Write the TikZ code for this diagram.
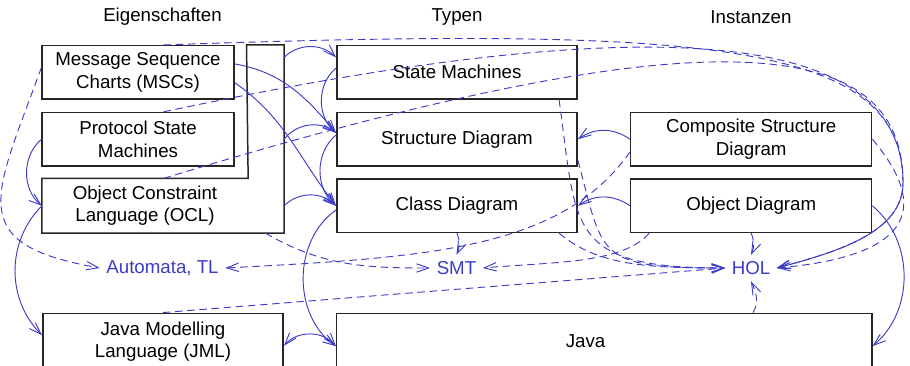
\documentclass[tikz,border=0pt]{standalone}
\usepackage{fontspec}
\setmainfont{Liberation Sans}
\usetikzlibrary{arrows.meta}
\definecolor{flowblue}{RGB}{60,60,200}

\begin{document}
\begin{tikzpicture}[x=0.0188cm, y=0.0188cm, >={Straight Barb[length=6.5pt,width=4.5pt]},
    box/.style={draw=black!85, line width=0.8pt, inner sep=0pt, align=center, minimum height=1cm},
    tool/.style={text=flowblue},
    uses/.style={flowblue, line width=0.5pt, ->},
    maps/.style={uses, dash pattern=on 4pt off 2.5pt}]
  \useasboundingbox (0,0) rectangle (910,365);

  % HEADINGS:
  \node (eig) at (162.5,348) {Eigenschaften};
  \node (typ) at (457,348) {Typen};
  \node (ins) at (751,348) {Instanzen};

  % BOXES:
  \node[box, minimum width=3.6cm] (msc) at (138,292.7) {Message Sequence\\Charts (MSCs)};
  \node[box, minimum width=3.6cm] (psm) at (138,225.8) {Protocol State\\Machines};
  \node[box, draw=none, minimum width=3.85cm] (ocl) at (145,159.2) {Object Constraint\\Language (OCL)};
  \node[box, draw=none, minimum width=0.677cm, minimum height=3.51cm] (oclbar) at (265.3,226) {};
  \draw[black!85, line width=0.8pt] (ocl.north west) -- (ocl.north east) -- (oclbar.north west)
       -- (oclbar.north east) -- (oclbar.south east) -- (ocl.south west) -- cycle;

  \node[box, minimum width=4.52cm] (sm) at (457,292.7) {State Machines};
  \node[box, minimum width=4.52cm] (sd) at (457,225.8) {Structure Diagram};
  \node[box, minimum width=4.52cm] (cd) at (457,159.2) {Class Diagram};

  \node[box, minimum width=4.53cm] (csd) at (751.2,225.8) {Composite Structure\\Diagram};
  \node[box, minimum width=4.53cm] (od) at (751.2,159.2) {Object Diagram};

  \node[box, minimum width=4.52cm, minimum height=1.06cm] (jml) at (163,23.5) {Java Modelling\\Language (JML)};
  \node[box, minimum width=10.06cm, minimum height=1.06cm,
        label={[xshift=-0.35cm]center:Java}] (java) at (604.2,23.5) {};

  % TARGETS
  \node[tool] (auto) at (162.5,97) {Automata, TL};
  \node[tool] (smt) at (456.5,97) {SMT};
  \node[tool] (hol) at (751,97) {HOL};

  % LINES:
  \draw[uses] (msc.5) to[out=-10,in=130] (sd.177);
  \draw[uses] (msc.-6) to[out=-35,in=128] (cd.west);
  \draw[uses] (oclbar.east |- sm.173) to[bend left=45] (sm.173);
  \draw[uses] (oclbar.east |- sd.west) to[bend left=45] (sd.177);
  \draw[uses] (oclbar.east |- cd.west) to[bend left=45] (cd.west);
  \draw[uses] (sm.178) to[bend right=50] (sd.177);
  \draw[uses] (sd.178) to[bend right=50] (cd.west);
  \draw[uses] (cd.182) to[bend right=55] (java.181);
  \draw[uses, <->] (jml.-2) to[bend left=50] (java.181);
  \draw[uses] (psm.west) to[bend right=50] (ocl.west);
  \draw[uses] (ocl.west) to[bend right=45] (jml.177);
  \draw[uses] (csd.west) to[bend right=35] (sd.east);
  \draw[uses] (od.west) to[bend right=35] (cd.east);
  \draw[uses] (od.east) to[bend left=50] (java.-1);

  % DASHED LINES:
  \draw[maps] (msc.177) to[out=250,in=170,looseness=1.7] (auto.west);
  \draw[maps] (csd.186) .. controls +(235:120) and +(3:200) .. (auto.east);
  \draw[maps] (oclbar.south) to[out=-30,in=180] (smt.west);
  \draw[maps] (cd.south) to[out=-70,in=65] (smt.north);
  \draw[maps] (od.195) .. controls +(230:40) and +(5:70) .. (smt.east);

  \coordinate (holloop) at (903,182);
  \draw[maps] (msc.47) .. controls +(2:550) and +(90:140) .. (holloop)
              .. controls +(-90:50) and +(15:60) .. (hol.east);
  \draw[maps] (psm.47) .. controls +(12:550) and +(90:140) .. (holloop)
              .. controls +(-90:50) and +(15:60) .. (hol.east);
  \draw[maps] (ocl.56) .. controls +(17:600) and +(90:140) .. (holloop)
              .. controls +(-90:50) and +(15:60) .. (hol.east);
  \draw[maps] (csd.east) .. controls +(-50:110) and +(5:110) .. (hol.east);
  \draw[maps] (sm.-15) .. controls +(-82:130) and +(180:160) .. (hol.west);
  \draw[maps] (sd.-10) .. controls +(-75:100) and +(180:130) .. (hol.west);
  \draw[maps] (cd.-15) .. controls +(-40:50) and +(180:80) .. (hol.west);
  \draw[maps] (jml.north) -- (hol.west);
  \draw[maps] (od.south) to[out=-70,in=65] (hol.north);
  \draw[maps] (java.11) to[out=60,in=-65] (hol.south);
\end{tikzpicture}
\end{document}
